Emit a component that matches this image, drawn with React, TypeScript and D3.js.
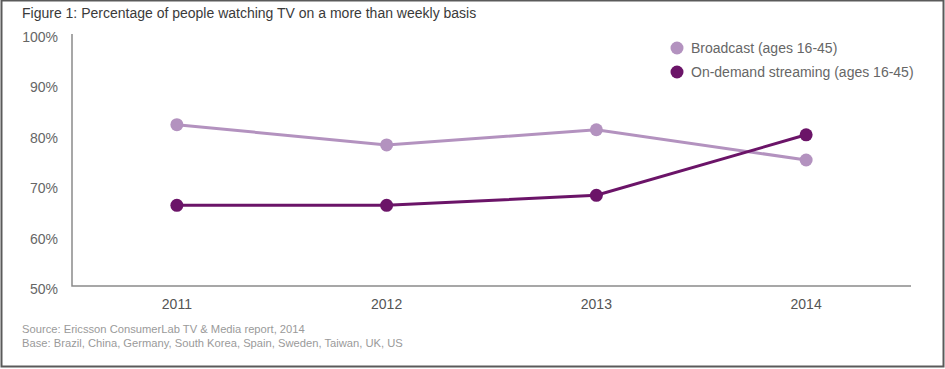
import { useEffect, useRef } from "react";
import * as d3 from "d3";

const years = ["2011", "2012", "2013", "2014"];
const broadcast = [82, 78, 81, 75];
const streaming = [66, 66, 68, 80];
const yTicks = [50, 60, 70, 80, 90, 100];

const series = [
  { name: "Broadcast (ages 16-45)", values: broadcast, color: "#b392bf" },
  { name: "On-demand streaming (ages 16-45)", values: streaming, color: "#6b1468" },
];

const W = 945;
const H = 369;
const FONT = "'Liberation Sans', Arial, sans-serif";

function LineChart() {
  const svgRef = useRef<SVGSVGElement | null>(null);

  useEffect(() => {
    if (!svgRef.current) return;
    const svg = d3.select(svgRef.current);
    svg.selectAll("*").remove();

    const left = 72;
    const right = 911;
    const top = 34;
    const bottom = 286;

    const x = d3.scalePoint<string>().domain(years).range([left, right]).padding(0.5);
    const y = d3.scaleLinear().domain([50, 100]).range([bottom, top]);

    // outer frame
    svg
      .append("rect")
      .attr("x", 1.5)
      .attr("y", 0.5)
      .attr("width", W - 3)
      .attr("height", H - 3)
      .attr("fill", "#fff")
      .attr("stroke", "#5a5a5a")
      .attr("stroke-width", 2);

    svg
      .append("text")
      .attr("x", 22)
      .attr("y", 18)
      .attr("font-family", FONT)
      .attr("font-size", 14)
      .attr("fill", "#3a3a3a")
      .text("Figure 1: Percentage of people watching TV on a more than weekly basis");

    // axes
    svg
      .append("path")
      .attr("d", `M${left},${top}V${bottom}H${right}`)
      .attr("fill", "none")
      .attr("stroke", "#8a8a8a")
      .attr("stroke-width", 1.5);

    svg
      .append("g")
      .selectAll("text")
      .data(yTicks)
      .enter()
      .append("text")
      .attr("x", 58)
      .attr("y", (d) => y(d) + 8)
      .attr("text-anchor", "end")
      .attr("font-family", FONT)
      .attr("font-size", 14)
      .attr("fill", "#666")
      .text((d) => `${d}%`);

    svg
      .append("g")
      .selectAll("text")
      .data(years)
      .enter()
      .append("text")
      .attr("x", (d) => x(d)!)
      .attr("y", 309)
      .attr("text-anchor", "middle")
      .attr("font-family", FONT)
      .attr("font-size", 14)
      .attr("fill", "#555")
      .text((d) => d);

    const line = d3
      .line<number>()
      .x((_, i) => x(years[i])!)
      .y((d) => y(d));

    series.forEach((s) => {
      const g = svg.append("g");
      g.append("path")
        .attr("d", line(s.values)!)
        .attr("fill", "none")
        .attr("stroke", s.color)
        .attr("stroke-width", 3);
      g.selectAll("circle")
        .data(s.values)
        .enter()
        .append("circle")
        .attr("cx", (_, i) => x(years[i])!)
        .attr("cy", (d) => y(d))
        .attr("r", 6.5)
        .attr("fill", s.color);
    });

    // legend
    const legend = svg
      .append("g")
      .selectAll("g")
      .data(series)
      .enter()
      .append("g")
      .attr("transform", (_, i) => `translate(677,${48 + i * 24})`);
    legend.append("circle").attr("r", 6.5).attr("fill", (d) => d.color);
    legend
      .append("text")
      .attr("x", 14)
      .attr("y", 5)
      .attr("font-family", FONT)
      .attr("font-size", 14)
      .attr("fill", "#666")
      .text((d) => d.name);

    // footnotes
    const notes = [
      "Source: Ericsson ConsumerLab TV & Media report, 2014",
      "Base: Brazil, China, Germany, South Korea, Spain, Sweden, Taiwan, UK, US",
    ];
    svg
      .append("g")
      .selectAll("text")
      .data(notes)
      .enter()
      .append("text")
      .attr("x", 22)
      .attr("y", (_, i) => 333 + i * 13.5)
      .attr("font-family", FONT)
      .attr("font-size", 11.2)
      .attr("fill", "#9a9a9a")
      .text((d) => d);
  }, []);

  return (
    <svg
      ref={svgRef}
      width={W}
      height={H}
      style={{ position: "absolute", left: 0, top: 0 }}
    />
  );
}

export default function App() {
  return <LineChart />;
}
